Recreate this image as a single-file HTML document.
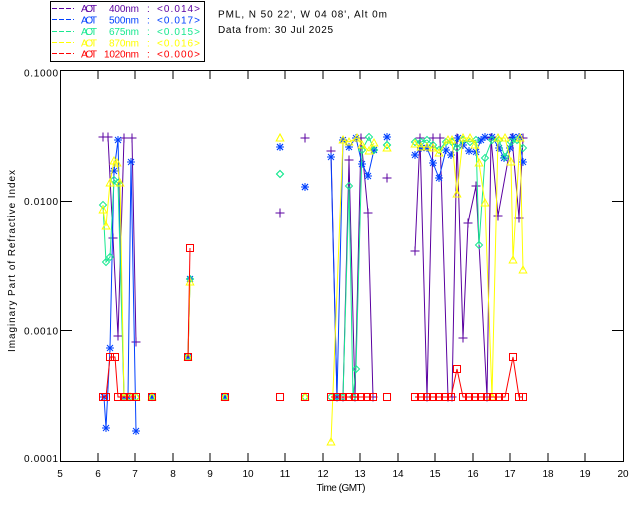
<!DOCTYPE html>
<html><head><meta charset="utf-8"><style>
html,body{margin:0;padding:0;background:#fff;}
svg{display:block;}
text{font-family:"Liberation Sans",sans-serif;font-size:10px;fill:#000;}
</style></head><body>
<svg width="640" height="512" viewBox="0 0 640 512" xmlns="http://www.w3.org/2000/svg">
<defs>
<marker id="mp" viewBox="-6 -6 12 12" refX="0" refY="0" markerWidth="12" markerHeight="12" markerUnits="userSpaceOnUse" overflow="visible"><path d="M-4.5,0H4.5M0,-4.5V4.5" stroke="#5a00a0" stroke-width="1" fill="none"/></marker>
<marker id="mb" viewBox="-6 -6 12 12" refX="0" refY="0" markerWidth="12" markerHeight="12" markerUnits="userSpaceOnUse" overflow="visible"><path d="M-4,0H4M0,-4V4M-3,-3L3,3M-3,3L3,-3" stroke="#0040ff" stroke-width="1" fill="none"/></marker>
<marker id="mg" viewBox="-6 -6 12 12" refX="0" refY="0" markerWidth="12" markerHeight="12" markerUnits="userSpaceOnUse" overflow="visible"><path d="M0,-3.5L3.5,0L0,3.5L-3.5,0Z" stroke="#18e890" stroke-width="1" fill="none"/></marker>
<marker id="my" viewBox="-6 -6 12 12" refX="0" refY="0" markerWidth="12" markerHeight="12" markerUnits="userSpaceOnUse" overflow="visible"><path d="M0,-4L3.8,3L-3.8,3Z" stroke="#ffff00" stroke-width="1" fill="none"/></marker>
<marker id="mr" viewBox="-6 -6 12 12" refX="0" refY="0" markerWidth="12" markerHeight="12" markerUnits="userSpaceOnUse" overflow="visible"><rect x="-3.5" y="-3.5" width="7" height="7" stroke="#ff0000" stroke-width="1" fill="none"/></marker>
</defs>
<rect width="640" height="512" fill="#fff"/>

<!-- legend -->
<rect x="50.5" y="1.5" width="154" height="60" fill="none" stroke="#000" stroke-width="1"/>
<g stroke-width="1" stroke-dasharray="5,2">
<line x1="52" y1="8.5" x2="74" y2="8.5" stroke="#5a00a0"/>
<line x1="52" y1="19.5" x2="74" y2="19.5" stroke="#0040ff"/>
<line x1="52" y1="31.5" x2="74" y2="31.5" stroke="#18e890"/>
<line x1="52" y1="42.5" x2="74" y2="42.5" stroke="#ffff00"/>
<line x1="52" y1="53.5" x2="74" y2="53.5" stroke="#ff0000"/>
</g>
<g style="fill:#5a00a0"><text x="81" y="12" textLength="16" style="fill:#5a00a0">AOT</text><text x="109" y="12" textLength="30" style="fill:#5a00a0">400nm</text><text x="147" y="12" style="fill:#5a00a0">:</text><text x="157" y="12" textLength="43" style="fill:#5a00a0">&lt;0.014&gt;</text></g>
<g><text x="81" y="23.3" textLength="16" style="fill:#0040ff">AOT</text><text x="109" y="23.3" textLength="30" style="fill:#0040ff">500nm</text><text x="147" y="23.3" style="fill:#0040ff">:</text><text x="157" y="23.3" textLength="43" style="fill:#0040ff">&lt;0.017&gt;</text></g>
<g><text x="81" y="35" textLength="16" style="fill:#18e890">AOT</text><text x="109" y="35" textLength="30" style="fill:#18e890">675nm</text><text x="147" y="35" style="fill:#18e890">:</text><text x="157" y="35" textLength="43" style="fill:#18e890">&lt;0.015&gt;</text></g>
<g><text x="81" y="46.5" textLength="16" style="fill:#ffff00">AOT</text><text x="109" y="46.5" textLength="30" style="fill:#ffff00">870nm</text><text x="147" y="46.5" style="fill:#ffff00">:</text><text x="157" y="46.5" textLength="43" style="fill:#ffff00">&lt;0.016&gt;</text></g>
<g><text x="81" y="57.5" textLength="16" style="fill:#ff0000">AOT</text><text x="104" y="57.5" textLength="35" style="fill:#ff0000">1020nm</text><text x="147" y="57.5" style="fill:#ff0000">:</text><text x="157" y="57.5" textLength="43" style="fill:#ff0000">&lt;0.000&gt;</text></g>

<!-- header -->
<text x="218" y="17.5" textLength="169">PML, N 50 22', W 04 08', Alt 0m</text>
<text x="218" y="33" textLength="115">Data from: 30 Jul 2025</text>

<!-- axes frame -->
<g shape-rendering="crispEdges" stroke="#000" stroke-width="1" fill="none">
<rect x="60.5" y="70.5" width="563" height="391"/>
<path d="M98,461V453M135,461V453M173,461V453M210,461V453M248,461V453M285,461V453M323,461V453M360,461V453M398,461V453M435,461V453M473,461V453M510,461V453M548,461V453M585,461V453"/>
<path d="M98,71V79M135,71V79M173,71V79M210,71V79M248,71V79M285,71V79M323,71V79M360,71V79M398,71V79M435,71V79M473,71V79M510,71V79M548,71V79M585,71V79"/>
<path d="M61,201.5H72M61,330.5H72M623,201.5H612M623,330.5H612"/>
</g>

<!-- y tick labels -->
<g text-anchor="end">
<text x="58" y="76.5" textLength="34">0.1000</text>
<text x="58" y="205" textLength="34">0.0100</text>
<text x="58" y="334.5" textLength="34">0.0010</text>
<text x="58" y="462" textLength="34">0.0001</text>
</g>
<!-- x tick labels -->
<g text-anchor="middle">
<text x="60" y="477">5</text><text x="98" y="477">6</text><text x="135" y="477">7</text><text x="173" y="477">8</text><text x="210" y="477">9</text><text x="248" y="477">10</text><text x="285" y="477">11</text><text x="323" y="477">12</text><text x="360" y="477">13</text><text x="398" y="477">14</text><text x="435" y="477">15</text><text x="473" y="477">16</text><text x="510" y="477">17</text><text x="548" y="477">18</text><text x="585" y="477">19</text><text x="623" y="477">20</text>
<text x="341" y="491" textLength="49">Time (GMT)</text>
</g>
<text transform="translate(15,261) rotate(-90)" text-anchor="middle" textLength="182">Imaginary Part of Refractive Index</text>

<!-- data -->
<g fill="none" stroke-width="1">
<!-- purple 400 -->
<g stroke="#5a00a0" marker-start="url(#mp)" marker-mid="url(#mp)" marker-end="url(#mp)">
<polyline points="103,137 108,137 113,238 118,336 124,138 132,138 136,342"/>
<path d="M280,213h0.01"/>
<path d="M305,138h0.01"/>
<polyline points="331,151 337,397 343,397 349,160 355,397 361,138 368,213 373,397"/>
<path d="M387,178h0.01"/>
<polyline points="415,251 420,138 427,397 433,138 440,138 448,397 452,397 457,138 463,338 468,223 476,186 487,397 491,138 498,216 512,138 519,218 523,138"/>
</g>
<!-- blue 500 -->
<g stroke="#0040ff" marker-start="url(#mb)" marker-mid="url(#mb)" marker-end="url(#mb)">
<polyline points="104,397 106,428 110,348 114,171 118,140 124,397 128,397 131,162 136,431"/>
<path d="M152,397h0.01"/>
<polyline points="188,357 190,279"/>
<path d="M225,397h0.01"/>
<path d="M280,147h0.01"/>
<path d="M305,187h0.01"/>
<polyline points="331,157 337,397 343,140 349,147 356,138 362,164 368,176 374,150"/>
<path d="M387,137h0.01"/>
<polyline points="415,155 421,148 427,148 433,163 439,178 446,150 451,155 458,138 463,145 469,151 476,152 481,140 485,137 492,137 499,148 504,158 510,148 513,137 519,137 523,162"/>
</g>
<!-- green 675 -->
<g stroke="#18e890" marker-start="url(#mg)" marker-mid="url(#mg)" marker-end="url(#mg)">
<polyline points="103,205 106,262 110,257 114,180 118,183 124,397 130,397 136,397"/>
<path d="M152,397h0.01"/>
<polyline points="188,357 190,279"/>
<path d="M225,397h0.01"/>
<path d="M280,174h0.01"/>
<path d="M305,397h0.01"/>
<polyline points="331,397 337,397 343,397 349,186 353,397 356,369 362,150 369,137 374,150"/>
<path d="M387,145h0.01"/>
<polyline points="415,142 421,142 427,140 433,145 439,150 446,142 452,142 457,148 463,140 470,142 476,140 479,245 485,158 492,140 499,140 505,157 511,142 517,140 523,148"/>
</g>
<!-- yellow 870 -->
<g stroke="#ffff00" marker-start="url(#my)" marker-mid="url(#my)" marker-end="url(#my)">
<polyline points="103,210 106,226 110,183 114,161 117,163 120,183 124,397 130,397 136,397"/>
<path d="M152,397h0.01"/>
<polyline points="188,357 190,282"/>
<path d="M225,397h0.01"/>
<path d="M280,138h0.01"/>
<path d="M305,397h0.01"/>
<polyline points="331,442 343,140 349,142 357,138 362,145 369,151 374,143"/>
<path d="M387,148h0.01"/>
<polyline points="415,144 421,147 427,147 433,148 439,153 448,140 452,140 457,194 463,138 470,138 475,145 479,163 485,203 492,397 498,138 505,138 511,162 513,260 520,138 523,270"/>
</g>
<!-- red 1020 -->
<g stroke="#ff0000" marker-start="url(#mr)" marker-mid="url(#mr)" marker-end="url(#mr)">
<polyline points="103,397 106,397 110,357 115,357 118,397 124,397 130,397 136,397"/>
<path d="M152,397h0.01"/>
<polyline points="188,357 190,248"/>
<path d="M225,397h0.01"/>
<path d="M280,397h0.01"/>
<path d="M305,397h0.01"/>
<polyline points="331,397 337,397 343,397 349,397 355,397 361,397 367,397 373,397"/>
<path d="M387,397h0.01"/>
<polyline points="415,397 421,397 427,397 433,397 439,397 445,397 451,397 457,369 463,397 469,397 475,397 481,397 487,397 493,397 499,397 505,397 513,357 519,397 523,397"/>
</g>
</g>
</svg>
</body></html>
